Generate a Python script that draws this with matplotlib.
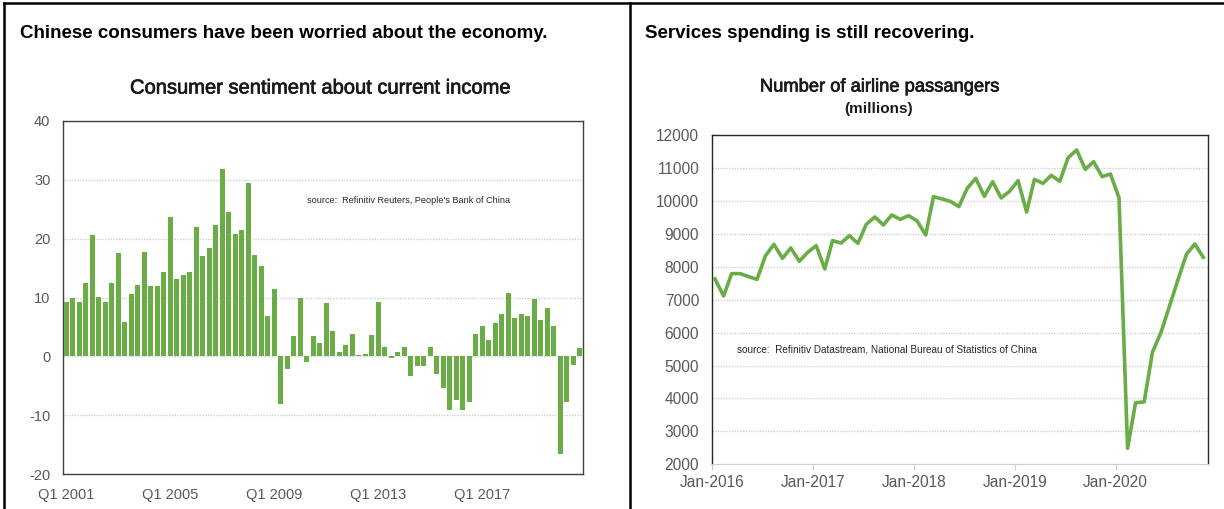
import matplotlib
matplotlib.use('Agg')
import matplotlib.pyplot as plt
import matplotlib.dates as mdates
import matplotlib.patheffects as pe
from matplotlib.lines import Line2D
import numpy as np
import pandas as pd

plt.rcParams['font.family'] = ['Liberation Sans', 'DejaVu Sans']
plt.rcParams['axes.unicode_minus'] = False

# left panel: consumer sentiment about current income, quarterly Q1 2001 - Q4 2020
sentiment = [9.2, 9.9, 9.2, 12.4, 20.6, 10.1, 9.2, 12.4, 17.5, 5.9,
             10.6, 12.1, 17.7, 11.9, 11.9, 14.4, 23.7, 13.2, 13.9, 14.4,
             22.0, 17.1, 18.4, 22.4, 31.8, 24.6, 20.8, 21.5, 29.4, 17.2,
             15.3, 6.9, 11.4, -8.1, -2.1, 3.4, 10.0, -1.0, 3.4, 2.3,
             9.0, 4.3, 0.7, 1.9, 3.8, 0.3, 0.4, 3.6, 9.2, 1.6,
             -0.3, 0.7, 1.6, -3.4, -1.7, -1.7, 1.6, -3.0, -5.4, -9.2,
             -7.5, -9.2, -7.7, 3.8, 5.2, 2.8, 5.6, 7.2, 10.8, 6.5,
             7.2, 6.9, 9.7, 6.1, 8.3, 5.2, -16.6, -7.7, -1.4, 1.4]
quarters = ['Q%d %d' % (q, y) for y in range(2001, 2021) for q in range(1, 5)]
left_ticks = ['Q1 2001', 'Q1 2005', 'Q1 2009', 'Q1 2013', 'Q1 2017']

# right panel: airline passengers (millions), monthly Jan-2016 - Nov-2020
passengers = [7628, 7111, 7790, 7790, 7700, 7617, 8326, 8680, 8255, 8569, 8164, 8437,
              8640, 7931, 8792, 8720, 8943, 8710, 9287, 9510, 9267, 9571, 9439, 9551,
              9389, 8964, 10127, 10057, 9986, 9824, 10380, 10684, 10138, 10583, 10087, 10289,
              10613, 9662, 10654, 10532, 10775, 10593, 11312, 11545, 10957, 11190, 10735, 10816,
              10097, 2486, 3872, 3893, 5401, 6008, 6787, 7597, 8377, 8690, 8285]
months = pd.date_range('2016-01-01', periods=len(passengers), freq='MS') + pd.Timedelta(days=12)

green = '#6aac46'
grid_c = '#cfcfcf'
tick_c = '#595959'
title_fx = [pe.withStroke(linewidth=0.5, foreground='#1a1a1a')]

W, H = 1224, 509
fig = plt.figure(figsize=(W / 100, H / 100), dpi=100)


def px_axes(l, r, t, b):
    return fig.add_axes([l / W, (H - b) / H, (r - l) / W, (b - t) / H])


# ---- left chart
ax1 = px_axes(63, 583, 121, 474)
x = np.arange(len(sentiment))
ax1.bar(x, sentiment, width=0.75, color=green, zorder=3)
ax1.set_xlim(-0.5, len(sentiment) - 0.5)
ax1.set_ylim(-20, 40)
ax1.set_yticks(range(-20, 41, 10))
ax1.set_xticks([quarters.index(q) for q in left_ticks])
ax1.set_xticklabels(left_ticks)
ax1.yaxis.grid(True, color=grid_c, lw=1, ls=(0, (1, 1)), zorder=0)
ax1.tick_params(axis='y', length=0, labelsize=10.5, colors=tick_c, pad=9)
ax1.tick_params(axis='x', length=0, labelsize=10.5, colors=tick_c, pad=10)
for s in ax1.spines.values():
    s.set_color('#404040')
    s.set_linewidth(1)
ax1.text(0.47, 0.775, "source:  Refinitiv Reuters, People's Bank of China", transform=ax1.transAxes,
         fontsize=6.6, color='#262626', va='center')

# ---- right chart
ax2 = px_axes(711.7, 1208.3, 135, 464.3)
ax2.plot(months, passengers, color=green, lw=2.6, zorder=3)
ax2.set_xlim(pd.Timestamp('2016-01-01'), pd.Timestamp('2020-12-01'))
ax2.set_ylim(2000, 12000)
ax2.set_yticks(range(2000, 12001, 1000))
ax2.xaxis.set_major_locator(mdates.YearLocator())
ax2.xaxis.set_major_formatter(mdates.DateFormatter('%b-%Y'))
ax2.yaxis.grid(True, color=grid_c, lw=1, ls=(0, (1, 1)), zorder=0)
ax2.tick_params(axis='y', length=0, labelsize=11.2, colors=tick_c, pad=9)
ax2.tick_params(axis='x', length=4, color=grid_c, labelsize=11.2, labelcolor=tick_c, pad=4)
for k in ['left', 'top', 'right']:
    ax2.spines[k].set_color('#262626')
    ax2.spines[k].set_linewidth(1)
ax2.spines['bottom'].set_color(grid_c)
ax2.text(0.05, 0.35, "source:  Refinitiv Datastream, National Bureau of Statistics of China",
         transform=ax2.transAxes, fontsize=7.2, color='#262626', va='center')

# ---- headings and titles
fig.text(20 / W, 1 - 33 / H, 'Chinese consumers have been worried about the economy.',
         fontsize=13.5, fontweight='bold', va='center', ha='left')
fig.text(645 / W, 1 - 33 / H, 'Services spending is still recovering.',
         fontsize=13.5, fontweight='bold', va='center', ha='left')
fig.text(320.5 / W, 1 - 88 / H, 'Consumer sentiment about current income',
         fontsize=14.5, va='center', ha='center', color='#1a1a1a', path_effects=title_fx)
fig.text(880 / W, 1 - 87 / H, 'Number of airline passangers',
         fontsize=13.2, va='center', ha='center', color='#1a1a1a', path_effects=title_fx)
fig.text(879 / W, 1 - 109 / H, '(millions)',
         fontsize=11, fontweight='bold', va='center', ha='center', color='#1a1a1a')

# outer frame lines
for xs, ys in [([4, 1224], [3, 3]), ([4, 4], [3, 509]), ([630, 630], [3, 509])]:
    fig.add_artist(Line2D([v / W for v in xs], [1 - v / H for v in ys], color='black', lw=1.8))

fig.savefig('out.png', dpi=100)
